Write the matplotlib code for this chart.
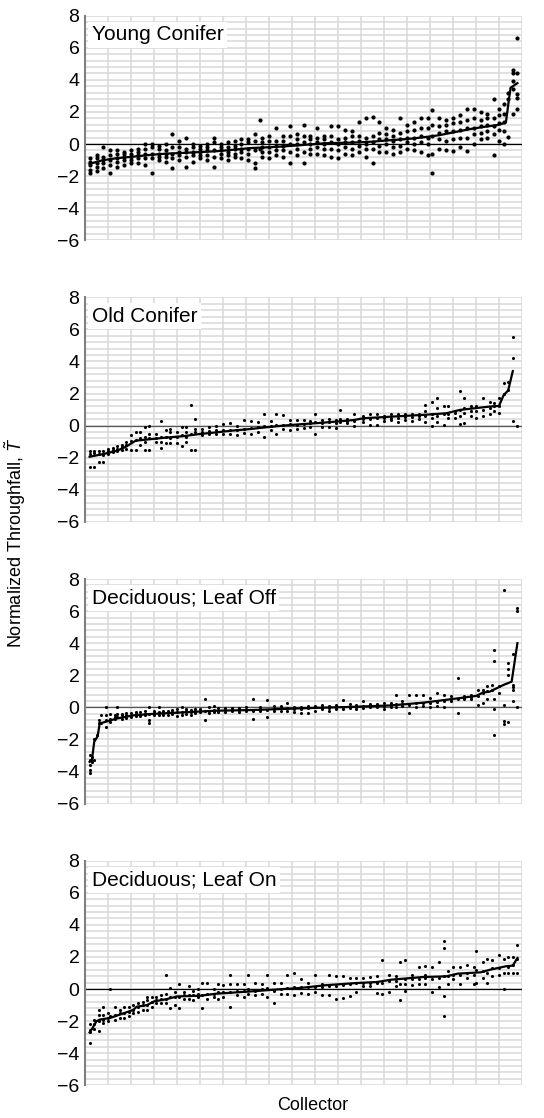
import matplotlib.pyplot as plt
from matplotlib.ticker import MultipleLocator

plt.rcParams['font.family'] = ['Liberation Sans', 'DejaVu Sans']
plt.rcParams['mathtext.fontset'] = 'custom'
plt.rcParams['mathtext.it'] = 'Liberation Sans:italic'
plt.rcParams['mathtext.rm'] = 'Liberation Sans'

# ---- Young Conifer ----
young_cols = [2, 5, 8, 11, 14, 17, 20, 23, 26, 29, 32, 35, 38, 41, 44, 47, 50, 53, 56, 59,
              62, 65, 68, 71, 74, 76, 77, 80, 83, 86, 89, 92, 95, 98, 101, 104, 107, 110,
              113, 116, 119, 122, 125, 128, 131, 134, 137, 140, 143, 146, 149, 151, 154,
              157, 160, 163, 166, 169, 172, 175, 178, 180, 182, 184, 186, 188]
young_pts = [
    [-1.8, -1.6, -1.3, -1.1, -0.9], [-1.7, -1.4, -1.2, -0.9, -0.7], [-1.5, -1.2, -1.0, -0.8, -0.2],
    [-1.8, -1.3, -1.0, -0.7, -0.4], [-1.4, -1.1, -0.9, -0.6, -0.4], [-1.3, -1.0, -0.8, -0.6, -0.5],
    [-1.2, -1.0, -0.8, -0.6, -0.4], [-1.2, -0.9, -0.7, -0.5, -0.3], [-1.3, -0.9, -0.6, -0.3, 0.0],
    [-1.8, -0.9, -0.6, -0.2, 0.0], [-1.0, -0.8, -0.6, -0.3, -0.1], [-1.1, -0.8, -0.6, -0.4, 0.0],
    [-1.5, -0.9, -0.6, -0.2, 0.6], [-1.0, -0.7, -0.5, -0.2, 0.2], [-1.4, -0.8, -0.5, -0.3, 0.4],
    [-1.1, -0.7, -0.5, -0.2, 0.0], [-0.9, -0.7, -0.5, -0.3, -0.1], [-1.0, -0.7, -0.4, -0.2, 0.0],
    [-1.4, -0.8, -0.4, 0.1, 0.4], [-0.9, -0.6, -0.4, -0.2, 0.0], [-1.0, -0.7, -0.5, -0.2, 0.1],
    [-0.8, -0.6, -0.3, -0.1, 0.2], [-0.9, -0.5, -0.3, 0.0, 0.3], [-1.0, -0.6, -0.3, 0.1, 0.3],
    [-1.5, -1.2, -0.4, 0.2, 0.6], [-0.3, 1.5], [-0.8, -0.5, -0.2, 0.1, 0.4],
    [-0.9, -0.5, -0.2, 0.2, 0.5], [-0.7, -0.4, -0.1, 0.2, 1.0], [-0.8, -0.4, -0.1, 0.2, 0.5],
    [-1.2, -0.5, 0.0, 0.5, 1.15], [-0.7, -0.3, 0.0, 0.3, 0.6], [-1.2, -0.5, 0.1, 0.5, 1.2],
    [-0.6, -0.3, 0.0, 0.3, 0.5], [-0.6, -0.2, 0.1, 0.4, 1.0], [-0.7, -0.3, 0.0, 0.3, 0.5],
    [-0.8, -0.3, 0.1, 0.5, 1.15], [-0.9, -0.4, 0.0, 0.3, 1.1], [-0.6, -0.2, 0.1, 0.4, 0.9],
    [-0.7, -0.3, 0.1, 0.5, 0.8], [-0.5, -0.1, 0.2, 0.5, 1.4], [-0.8, -0.3, 0.0, 0.4, 1.6],
    [-1.2, -0.3, 0.1, 0.5, 1.7], [-0.5, -0.1, 0.3, 0.7, 1.4], [-0.5, 0.0, 0.3, 0.6, 1.0],
    [-0.6, -0.2, 0.2, 0.5, 0.9], [-0.5, -0.1, 0.3, 0.7, 1.6], [-0.3, 0.1, 0.4, 0.8, 1.2],
    [-0.4, 0.0, 0.4, 0.9, 1.4], [-0.5, 0.1, 0.5, 1.0, 1.6], [-0.7, 0.0, 0.4, 1.0, 1.6],
    [-1.8, -0.6, 0.5, 1.2, 2.15], [-0.3, 0.3, 0.7, 1.1, 1.6], [-0.4, 0.2, 0.8, 1.2, 1.5],
    [-0.45, 0.3, 0.8, 1.3, 1.6], [-0.2, 0.4, 0.9, 1.4, 1.8], [-0.45, 0.4, 1.0, 1.5, 2.2],
    [0.0, 0.6, 1.0, 1.6, 2.2], [0.3, 0.7, 1.1, 1.5, 2.0], [0.4, 0.8, 1.2, 1.6, 1.9],
    [-0.67, 0.6, 1.1, 1.6, 2.8], [0.2, 0.9, 1.3, 1.8, 2.2], [0.0, 0.8, 1.4, 1.9, 2.5],
    [0.44, 2.8, 3.2], [1.9, 3.4, 3.9, 4.4, 4.6], [2.2, 2.9, 3.1, 4.4, 6.6]]
young_line_x = [2, 4, 8, 14, 20, 28, 35, 43, 50, 57, 65, 72, 80, 86, 93, 100, 104, 110, 118,
                125, 132, 140, 147, 154, 161, 168, 175, 180, 183, 185, 188]
young_line_y = [-1.25, -1.15, -1.0, -0.88, -0.8, -0.68, -0.6, -0.55, -0.5, -0.45, -0.35, -0.25,
                -0.2, -0.15, -0.08, 0.0, 0.05, 0.07, 0.1, 0.15, 0.23, 0.31, 0.42, 0.55, 0.75,
                0.95, 1.1, 1.2, 1.35, 3.5, 3.8]

# ---- Old Conifer ----
old_cols = [2, 4, 6, 8, 10, 12, 14, 16, 18, 20, 22, 24, 26, 28, 31, 33, 35, 37, 40, 42, 44,
            46, 48, 51, 54, 57, 60, 63, 66, 69, 72, 75, 78, 81, 83, 86, 89, 92, 95, 98, 100,
            103, 106, 109, 111, 114, 117, 121, 124, 127, 130, 133, 136, 139, 142, 145, 148,
            151, 153, 156, 158, 161, 163, 165, 168, 170, 173, 176, 178, 180, 182, 184, 186, 188]
old_pts = [
    [-2.55, -1.75, -1.6], [-2.55, -1.7, -1.55], [-2.25, -1.75, -1.6], [-2.25, -1.8, -1.55],
    [-1.75, -1.6, -1.45], [-1.65, -1.5, -1.4], [-1.6, -1.45, -1.3], [-1.5, -1.35, -1.2],
    [-1.45, -1.2, -1.0], [-1.5, -0.95, -0.6], [-1.5, -0.9, -0.4], [-1.2, -0.8, -0.4],
    [-1.5, -1.0, -0.7, -0.1], [-1.5, -0.8, -0.5, 0.0], [-1.0, -0.8, -0.55], [-1.4, -1.0, -0.7, 0.3],
    [-1.1, -0.7, -0.3], [-1.1, -0.8, -0.4, -0.2], [-1.1, -0.7, -0.4], [-1.3, -0.6, -0.1],
    [-1.0, -0.7, -0.4, -0.1], [-1.5, -0.5, 1.3], [-1.5, -0.4, -0.2, 0.4], [-0.6, -0.4, -0.2],
    [-0.5, -0.35, -0.1], [-0.5, -0.3, 0.0], [-0.55, -0.3, 0.1], [-0.5, -0.3, 0.15],
    [-0.6, -0.25, 0.0], [-0.45, -0.2, 0.35], [-0.5, -0.15, 0.3], [-0.4, -0.1, 0.2],
    [-0.7, -0.05, 0.75], [-0.3, 0.0, 0.3], [-0.5, 0.05, 0.75], [-0.2, 0.05, 0.65],
    [-0.25, 0.1, 0.35], [-0.2, 0.05, 0.35], [-0.15, 0.1, 0.35], [-0.1, 0.15, 0.3],
    [-0.5, 0.2, 0.75], [-0.1, 0.15, 0.35], [-0.1, 0.2, 0.4], [-0.15, 0.15, 0.35],
    [0.2, 0.4, 1.0], [0.15, 0.3, 0.4], [0.0, 0.3, 0.75], [0.2, 0.4, 0.6], [0.05, 0.4, 0.75],
    [0.05, 0.45, 0.75], [0.3, 0.45, 0.6], [0.35, 0.5, 0.7], [0.2, 0.5, 0.75], [0.35, 0.55, 0.7],
    [0.3, 0.55, 0.75], [0.4, 0.6, 0.75], [0.2, 0.6, 0.9, 1.3], [0.0, 0.5, 0.7, 1.5],
    [0.2, 0.6, 1.1, 1.7], [0.05, 0.7, 1.25], [0.5, 0.75, 1.25], [0.5, 0.8, 0.9],
    [0.08, 0.6, 1.0, 2.15], [0.15, 0.8, 1.1, 1.7], [0.6, 0.9, 1.25], [0.5, 0.9, 1.25],
    [0.6, 1.0, 1.7], [0.7, 1.1, 1.5], [0.9, 1.2, 1.4], [0.8, 1.25, 1.7], [2.0, 2.65],
    [2.2, 2.75], [0.3, 4.2, 5.5], [0.0]]
old_line_x = [2, 8, 14, 18, 22, 28, 35, 43, 50, 57, 64, 72, 79, 86, 93, 104, 117, 121, 133,
              147, 157, 163, 176, 180, 182, 184, 186]
old_line_y = [-1.94, -1.77, -1.56, -1.3, -0.94, -0.85, -0.75, -0.65, -0.52, -0.42, -0.31,
              -0.21, -0.1, 0.0, 0.08, 0.19, 0.35, 0.46, 0.56, 0.67, 0.77, 0.98, 1.19, 1.23,
              1.9, 2.2, 3.4]

# ---- Deciduous; Leaf Off ----
off_cols = [2, 3, 4, 5, 6, 7, 9, 11, 13, 14, 16, 18, 20, 22, 24, 26, 28, 30, 32, 34, 36, 38,
            40, 42, 44, 46, 48, 50, 52, 54, 56, 58, 61, 64, 67, 70, 73, 76, 79, 82, 85, 88,
            91, 94, 97, 100, 103, 106, 109, 112, 115, 118, 121, 124, 127, 130, 133, 135, 138,
            141, 144, 147, 150, 153, 156, 159, 162, 165, 168, 171, 173, 175, 177, 178, 180,
            182, 184, 186, 188]
off_pts = [
    [-4.1, -3.9, -3.6, -3.3, -3.0], [-3.4, -3.1], [-3.3, -2.0], [-1.7], [-1.0, -0.8],
    [-0.95, -0.5], [-1.2, -0.8, -0.5, 0.0], [-0.9, -0.7, -0.4], [-0.75, -0.6, -0.5],
    [-0.6, -0.4, 0.0], [-0.7, -0.5, -0.4], [-0.65, -0.5, -0.35], [-0.6, -0.5, -0.35],
    [-0.55, -0.4, -0.3], [-0.55, -0.45, -0.3], [-0.5, -0.4, -0.2], [-1.0, -0.8, -0.4, 0.0],
    [-0.5, -0.35, -0.25], [-0.45, -0.3, 0.05], [-0.5, -0.35, -0.25], [-0.45, -0.3, -0.2],
    [-0.4, -0.3, -0.15], [-0.55, -0.3, -0.1], [-0.5, -0.3, 0.0], [-0.4, -0.25, -0.1],
    [-0.45, -0.3, -0.15], [-0.35, -0.25, -0.1], [-0.3, -0.2, -0.1], [-0.8, -0.2, 0.55],
    [-0.35, -0.2, 0.0], [-0.3, -0.15, 0.1], [-0.3, -0.2, -0.05], [-0.3, -0.15, -0.05],
    [-0.25, -0.15, -0.05], [-0.3, -0.15, -0.05], [-0.25, -0.15, 0.0], [-0.75, -0.2, 0.55],
    [-0.25, -0.1, 0.05], [-0.6, -0.15, 0.45], [-0.2, -0.1, 0.1], [-0.2, -0.05, 0.1],
    [-0.2, -0.05, 0.3], [-0.3, -0.1, 0.05], [-0.35, -0.1, 0.0], [-0.35, -0.05, 0.1],
    [-0.2, 0.0, 0.1], [-0.1, 0.0, 0.15], [-0.2, -0.05, 0.1], [-0.1, 0.0, 0.15],
    [-0.1, 0.05, 0.45], [-0.05, 0.05, 0.2], [-0.1, 0.05, 0.15], [-0.05, 0.1, 0.4],
    [0.0, 0.1, 0.2], [0.0, 0.1, 0.2], [-0.1, 0.1, 0.25], [0.0, 0.15, 0.3], [0.05, 0.2, 0.75],
    [0.1, 0.2, 0.4], [-0.35, 0.15, 0.75], [0.05, 0.25, 0.75], [0.1, 0.3, 0.75],
    [0.0, 0.3, 0.6], [0.1, 0.35, 0.9], [0.05, 0.4, 0.8], [0.4, 0.5, 0.7], [-0.35, 0.5, 1.85],
    [0.5, 0.6, 0.7], [0.55, 0.65, 0.8], [0.15, 0.7, 1.1], [0.3, 0.9, 1.1], [0.5, 1.0, 1.3],
    [1.1, 1.4], [-1.75, -0.1, 0.5, 2.9, 3.6], [0.9, 1.3], [-1.05, -0.85, 0.15, 7.3],
    [-0.9, 2.0, 2.4, 2.75], [0.4, 1.1, 1.25, 1.4, 3.3], [0.0, 6.0, 6.2]]
off_line_x = [2, 3, 4, 5.5, 6.4, 8, 14, 21, 28, 43, 57, 72, 86, 94, 104, 118, 133, 147, 162,
              170, 173, 176, 179, 182, 185.5, 188]
off_line_y = [-3.4, -3.3, -2.15, -1.8, -1.0, -0.94, -0.69, -0.5, -0.42, -0.31, -0.21, -0.17,
              -0.1, -0.06, -0.02, 0.04, 0.12, 0.29, 0.56, 0.71, 0.92, 0.98, 1.19, 1.4, 1.6, 4.0]

# ---- Deciduous; Leaf On ----
on_cols = [2, 4, 6, 8, 10, 11, 13, 15, 17, 19, 21, 23, 25, 27, 29, 31, 33, 35, 37, 39, 41,
           43, 45, 47, 49, 51, 53, 56, 58, 60, 63, 66, 69, 71, 74, 77, 79, 82, 85, 88, 91, 94,
           97, 100, 103, 106, 109, 112, 115, 118, 121, 124, 127, 129, 132, 135, 137, 139, 142,
           145, 148, 151, 154, 156, 158, 160, 163, 166, 169, 170, 173, 175, 177, 180, 182,
           184, 186, 188]
on_pts = [
    [-3.35, -2.7, -2.55, -2.2], [-2.5, -2.2, -1.9], [-2.6, -2.0, -1.6, -1.3],
    [-2.1, -1.9, -1.6, -1.1], [-2.0, -1.8, -1.5], [-1.7, 0.0], [-1.9, -1.6, -1.1],
    [-1.8, -1.5, -1.3], [-1.8, -1.5, -1.1], [-1.7, -1.4, -1.1], [-1.5, -1.3, -1.0],
    [-1.4, -1.1, -0.9], [-1.3, -1.0, -0.8], [-1.3, -1.0, -0.7, -0.5], [-1.1, -0.8, -0.5],
    [-0.9, -0.7, -0.5], [-0.9, -0.6, -0.4], [-0.9, -0.6, -0.3, 0.85], [-1.2, -0.5, 0.05],
    [-1.0, -0.5, -0.2], [-1.2, -0.5, 0.3], [-0.6, -0.4, -0.2], [-0.6, -0.4, 0.2],
    [-0.7, -0.4, -0.1], [-0.5, -0.3, 0.0], [-1.2, -0.4, 0.35], [-0.6, -0.3, 0.35],
    [-0.5, -0.3, 0.0], [-0.6, -0.2, 0.3], [-0.5, -0.2, 0.25], [-1.15, -0.2, 0.3, 0.85],
    [-0.4, -0.1, 0.3], [-0.5, -0.1, 0.3], [-0.3, 0.0, 0.85], [-0.4, -0.1, 0.35],
    [-0.3, 0.0, 0.3], [-0.5, 0.05, 0.85], [-0.9, -0.1, 0.35], [-0.3, 0.0, 0.4],
    [-0.3, 0.05, 0.85], [-0.35, 0.1, 1.0], [-0.25, 0.1, 0.6], [-0.3, 0.1, 0.4],
    [-0.2, 0.15, 0.9], [-0.4, 0.15, 0.3], [-0.35, 0.2, 0.9], [-0.6, 0.2, 0.8],
    [-0.55, 0.25, 0.8], [-0.45, 0.3, 0.7], [-0.2, 0.35, 0.7], [0.2, 0.4, 0.7],
    [0.2, 0.4, 0.75], [-0.25, 0.35, 0.8], [-0.3, 0.4, 1.8], [-0.2, 0.5, 0.9], [0.2, 0.5, 0.8],
    [-0.7, 0.3, 1.7], [-0.1, 0.3, 0.6, 1.8], [0.25, 0.6, 0.9], [0.3, 0.65, 1.4],
    [0.3, 0.7, 0.9, 1.45], [-0.2, 0.6, 1.4], [0.1, 0.7, 1.7], [-1.67, -0.46, 0.8, 2.55, 2.98],
    [0.3, 0.8, 1.1], [0.6, 0.9, 1.4], [0.3, 0.9, 1.4], [0.7, 1.0, 1.5], [0.3, 0.9, 1.4],
    [0.4, 1.2, 2.35], [0.7, 1.1, 1.7], [0.35, 1.0, 1.9], [0.8, 1.3, 1.8], [0.9, 1.3, 2.1],
    [0.0, 1.0, 1.9], [1.0, 1.4, 2.0], [1.0, 1.5, 2.0], [1.0, 1.9, 2.75]]
on_line_x = [2, 3, 5, 6.5, 11, 17, 21, 22.5, 27, 30, 35.5, 40, 50, 57, 72, 86, 93, 104, 118,
             127, 133, 147, 157, 162, 172, 176, 183, 186, 188]
on_line_y = [-2.7, -2.5, -2.0, -1.9, -1.8, -1.5, -1.3, -1.1, -1.0, -0.77, -0.63, -0.46, -0.42,
             -0.29, -0.15, 0.0, 0.06, 0.23, 0.375, 0.44, 0.58, 0.75, 0.79, 0.96, 1.04, 1.2,
             1.42, 1.46, 1.94]

panels = [
    ("Young Conifer", young_cols, young_pts, young_line_x, young_line_y, 9, 'black'),
    ("Old Conifer", old_cols, old_pts, old_line_x, old_line_y, 5, '#555555'),
    ("Deciduous; Leaf Off", off_cols, off_pts, off_line_x, off_line_y, 5, '#555555'),
    ("Deciduous; Leaf On", on_cols, on_pts, on_line_x, on_line_y, 5, 'black'),
]
tops = [15.7, 297.3, 579.0, 860.7]

W, H = 544, 1118
fig = plt.figure(figsize=(W / 100, H / 100), dpi=100)

for top, (name, cols, pts, lx, ly, size, zc) in zip(tops, panels):
    ax = fig.add_axes([85 / W, 1 - (top + 224.6) / H, 437 / W, 224.6 / H])
    ax.set_xlim(0, 190)
    ax.set_ylim(-6, 8)
    ax.xaxis.set_major_locator(MultipleLocator(10))
    ax.yaxis.set_major_locator(MultipleLocator(2))
    ax.yaxis.set_minor_locator(MultipleLocator(0.4))
    ax.grid(which='both', color='#d9d9d9', lw=1.1)
    ax.set_axisbelow(True)
    ax.tick_params(which='both', length=0, labelsize=14, pad=4)
    ax.tick_params(axis='x', labelbottom=False)
    for s in ['top', 'right', 'bottom']:
        ax.spines[s].set_visible(False)
    ax.spines['left'].set_color('#808080')
    ax.spines['left'].set_linewidth(1.5)
    ax.axhline(0, color=zc, lw=0.9, zorder=1.5)

    xs = [x for x, col in zip(cols, pts) for _ in col]
    ys = [y for col in pts for y in col]
    ax.scatter(xs, ys, s=size, c='black', lw=0, zorder=3)
    ax.plot(lx, ly, color='black', lw=1.6, zorder=4)
    ax.text(0.015, 0.958, name, transform=ax.transAxes, fontsize=15, va='top', ha='left',
            zorder=5, bbox=dict(facecolor='white', edgecolor='none', pad=2.5))

fig.text(15 / W, 1 - 543 / H, r'Normalized Throughfall, $\tilde{T}$', rotation=90,
         ha='center', va='center', fontsize=13)
fig.text(313 / W, 1 - 1105 / H, 'Collector', ha='center', va='center', fontsize=13)

fig.savefig('out.png', dpi=100)
